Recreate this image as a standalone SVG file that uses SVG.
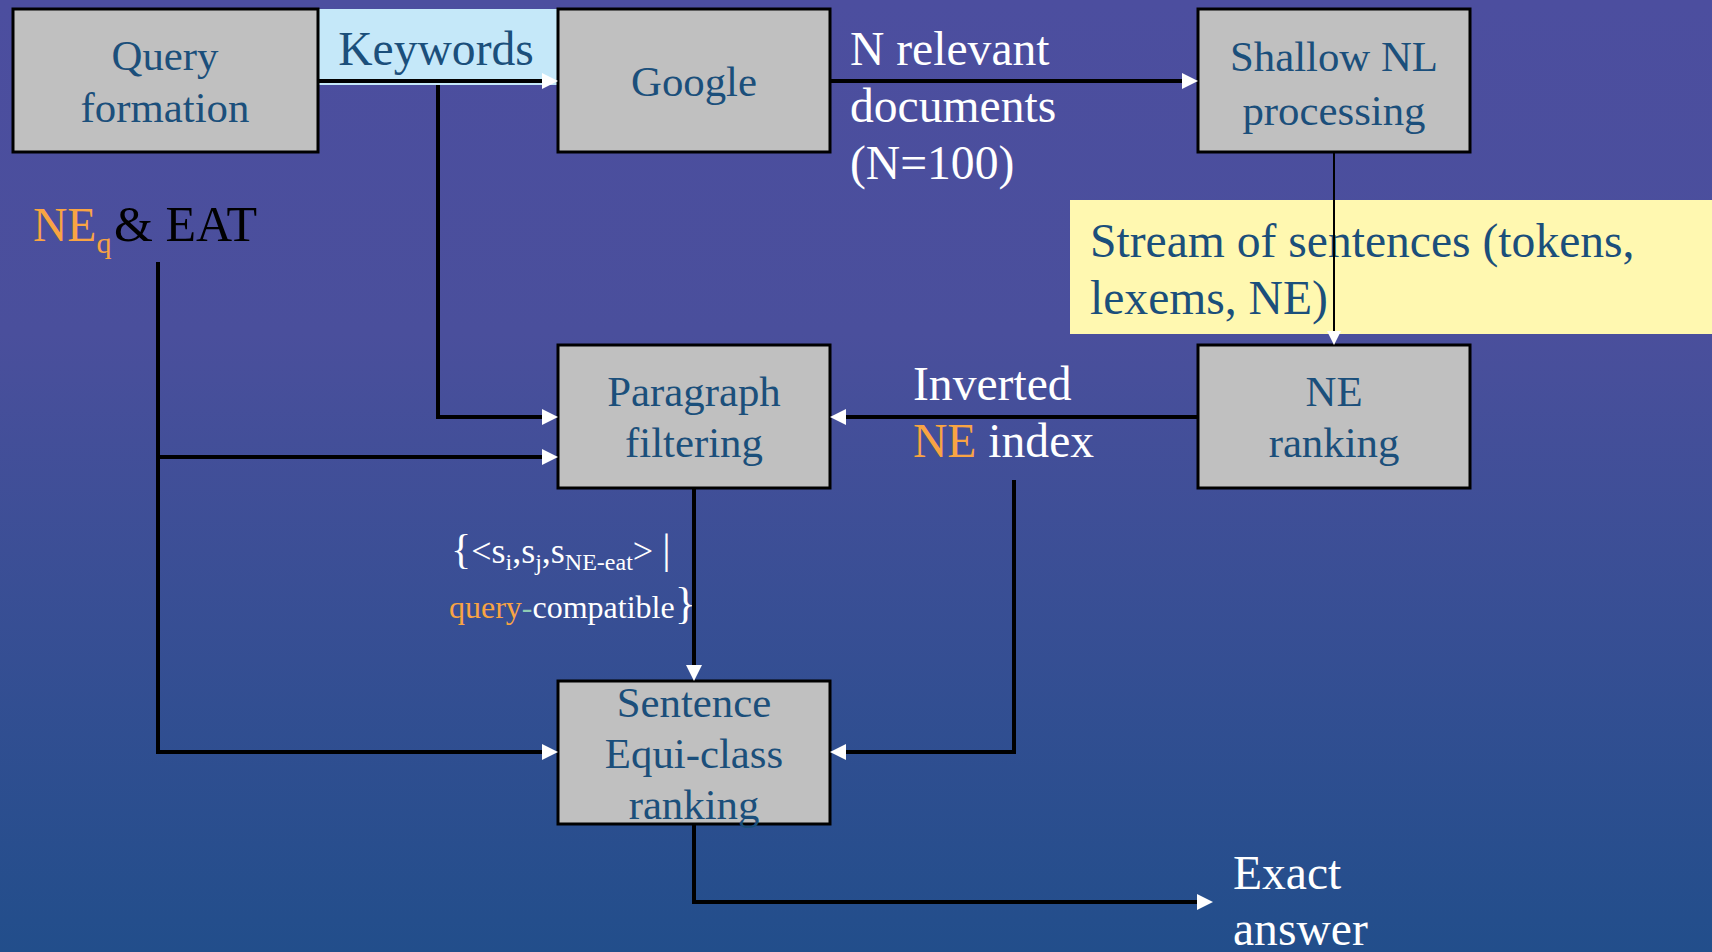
<svg xmlns="http://www.w3.org/2000/svg" width="1712" height="952" viewBox="0 0 1712 952">
<defs>
<linearGradient id="bg" x1="0" y1="0" x2="0" y2="1">
<stop offset="0" stop-color="#4C4E9F"/>
<stop offset="0.35" stop-color="#4A4F9C"/>
<stop offset="1" stop-color="#224E8B"/>
</linearGradient>
<marker id="arr" markerUnits="userSpaceOnUse" markerWidth="16" markerHeight="16" viewBox="0 0 16 16" refX="6" refY="8" orient="auto">
<path d="M0,0 L16,8 L0,16 Z" fill="#FFFFFF"/>
</marker>
<marker id="arrs" markerUnits="userSpaceOnUse" markerWidth="14" markerHeight="14" viewBox="0 0 14 14" refX="4" refY="7" orient="auto">
<path d="M0,0 L14,7 L0,14 Z" fill="#FFFFFF"/>
</marker>
<style>
.box{fill:#C0C0C0;stroke:#000;stroke-width:3}
.bt{font-family:"Liberation Serif","Times New Roman",serif;font-size:42.8px;fill:#1B4F7B;text-anchor:middle}
.lbl{font-family:"Liberation Serif","Times New Roman",serif;font-size:47.6px;fill:#FFFFFF}
.sm{font-family:"Liberation Serif","Times New Roman",serif;font-size:32px;fill:#FFFFFF}
.sm1{font-family:"Liberation Serif","Times New Roman",serif;font-size:36px;fill:#FFFFFF}
.sub{font-size:24px}
.br{font-size:42px}
.or{fill:#F9A443}
.ln{fill:none;stroke:#000;stroke-width:4}
.lnt{fill:none;stroke:#000;stroke-width:2}
</style>
</defs>
<rect x="0" y="0" width="1712" height="952" fill="url(#bg)"/>

<rect id="keywords-bg" x="318" y="9" width="240" height="76" fill="#C5E8F9"/>
<rect id="stream-bg" x="1070" y="200" width="642" height="134" fill="#FFF8B0"/>

<g id="query-formation">
<rect class="box" x="13" y="9" width="305" height="143"/>
<text class="bt" x="165" y="70">Query</text>
<text class="bt" x="165" y="122">formation</text>
</g>
<g id="google">
<rect class="box" x="558" y="9" width="272" height="143"/>
<text class="bt" x="694" y="96">Google</text>
</g>
<g id="shallow-nl">
<rect class="box" x="1198" y="9" width="272" height="143"/>
<text class="bt" x="1334" y="71">Shallow NL</text>
<text class="bt" x="1334" y="125">processing</text>
</g>
<g id="paragraph-filtering">
<rect class="box" x="558" y="345" width="272" height="143"/>
<text class="bt" x="694" y="406">Paragraph</text>
<text class="bt" x="694" y="457">filtering</text>
</g>
<g id="ne-ranking">
<rect class="box" x="1198" y="345" width="272" height="143"/>
<text class="bt" x="1334" y="406">NE</text>
<text class="bt" x="1334" y="457">ranking</text>
</g>
<g id="sentence-ranking">
<rect class="box" x="558" y="681" width="272" height="143"/>
<text class="bt" x="694" y="717">Sentence</text>
<text class="bt" x="694" y="768">Equi-class</text>
<text class="bt" x="694" y="819">ranking</text>
</g>

<g id="labels">
<text class="lbl" x="436" y="65" text-anchor="middle" style="fill:#1B4F7B">Keywords</text>
<text class="lbl" x="850" y="65">N relevant</text>
<text class="lbl" x="850" y="122">documents</text>
<text class="lbl" x="850" y="179">(N=100)</text>
<text class="lbl" x="1090" y="257" style="fill:#1B4F7B">Stream of sentences (tokens,</text>
<text class="lbl" x="1090" y="314" style="fill:#1B4F7B">lexems, NE)</text>
<text class="lbl" x="33" y="241" style="fill:#000"><tspan class="or">NE</tspan><tspan class="or" font-size="30px" dy="12">q</tspan><tspan dy="-12" x="114" font-size="50px">&amp; EAT</tspan></text>
<text class="lbl" x="913" y="400">Inverted</text>
<text class="lbl" x="913" y="457"><tspan class="or">NE</tspan> index</text>
<text class="lbl" x="1233" y="889">Exact</text>
<text class="lbl" x="1233" y="945">answer</text>
<text class="sm1" x="451" y="563"><tspan class="br">{</tspan>&lt;s<tspan class="sub" dy="7">i</tspan><tspan dy="-7">,s</tspan><tspan class="sub" dy="7">j</tspan><tspan dy="-7">,s</tspan><tspan class="sub" dy="7">NE-eat</tspan><tspan dy="-7">&gt; </tspan><tspan class="br">|</tspan></text>
<text class="sm" x="449" y="618"><tspan class="or">query</tspan><tspan fill="#8FCCB4">-</tspan>compatible<tspan font-size="44px">}</tspan></text>
</g>

<g id="connectors">
<path class="ln" d="M318,81 H548" marker-end="url(#arr)"/>
<path class="ln" d="M438,85 V417 H548" marker-end="url(#arr)"/>
<path class="ln" d="M158,262 V752 H548" marker-end="url(#arr)"/>
<path class="ln" d="M158,457 H548" marker-end="url(#arr)"/>
<path class="ln" d="M830,81 H1188" marker-end="url(#arr)"/>
<path class="lnt" d="M1334,152 V335" marker-end="url(#arrs)"/>
<path class="ln" d="M1198,417 H840" marker-end="url(#arr)"/>
<path class="ln" d="M694,488 V671" marker-end="url(#arr)"/>
<path class="ln" d="M1014,480 V752 H840" marker-end="url(#arr)"/>
<path class="ln" d="M694,824 V902 H1203" marker-end="url(#arr)"/>
</g>
</svg>
